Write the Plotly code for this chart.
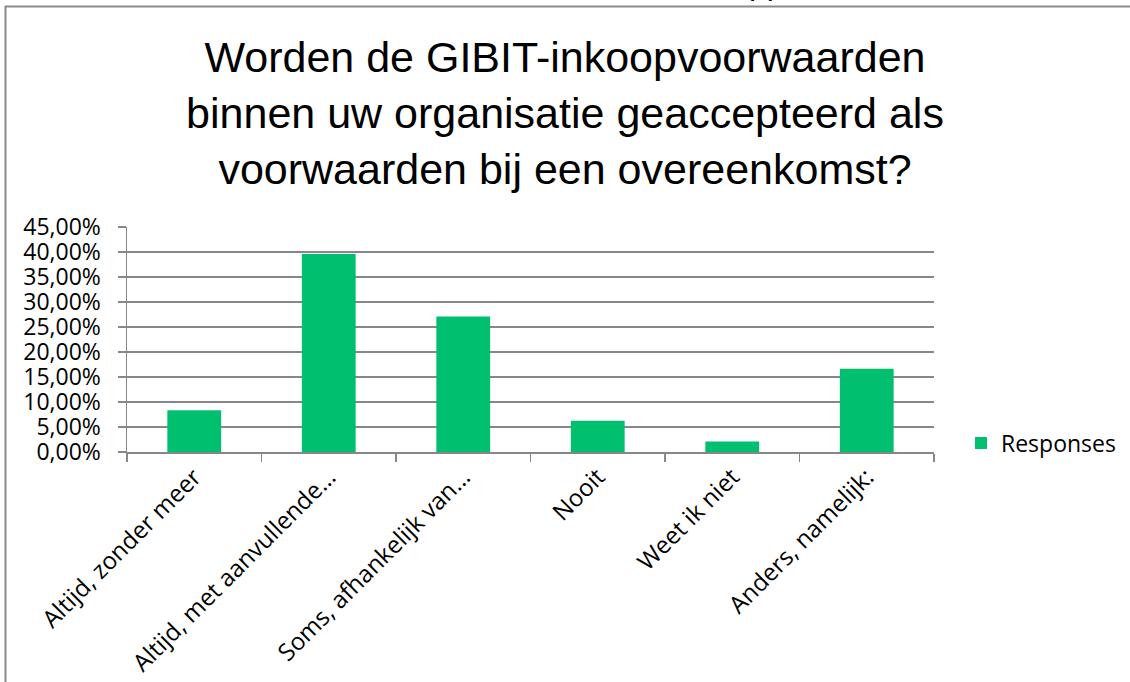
import plotly.graph_objects as go

categories = ["Altijd, zonder meer", "Altijd, met aanvullende…", "Soms, afhankelijk van…",
              "Nooit", "Weet ik niet", "Anders, namelijk:"]
values = [0.0833, 0.3958, 0.2708, 0.0625, 0.0208, 0.1667]
series_name = "Responses"
title_lines = ["Worden de GIBIT-inkoopvoorwaarden",
               "binnen uw organisatie geaccepteerd als",
               "voorwaarden bij een overeenkomst?"]

W, H = 1130, 682
L, R, T, B = 127, 196, 227, 230
pw = W - L - R
ph = H - T - B

def px_x(p):
    return (p - L) / pw

def px_y(p):
    return (H - B - p) / ph

GRID = "#878787"
GREEN = "#00BF6F"
TICKFONT = dict(family="Open Sans, Lato, sans-serif", size=23, color="#000000")

fig = go.Figure()
fig.add_trace(go.Bar(x=categories, y=values, name=series_name,
                     marker=dict(color=GREEN, line=dict(width=0)),
                     showlegend=True))

fig.update_layout(
    width=W, height=H,
    margin=dict(l=L, r=R, t=T, b=B, autoexpand=False),
    paper_bgcolor="white", plot_bgcolor="white",
    separators=",.",
    bargap=0.6,
    hovermode=False,
    title=dict(text="<br>".join(title_lines), x=0.5, xanchor="center",
               y=1 - 72 / H, yref="container", yanchor="top",
               font=dict(family="Liberation Sans, Arial, sans-serif", size=43, color="#000000")),
    showlegend=True,
    legend=dict(x=px_x(961), xanchor="left", y=px_y(443), yanchor="middle",
                font=TICKFONT, bgcolor="rgba(0,0,0,0)", itemwidth=30),
    xaxis=dict(type="category", tickson="boundaries", ticks="outside", ticklen=8,
               tickcolor=GRID, tickwidth=1.5, showline=True, linecolor=GRID, linewidth=1.5,
               tickangle=-45, tickfont=dict(TICKFONT, size=24), showgrid=False, zeroline=False),
    yaxis=dict(range=[0, 0.45], dtick=0.05, tick0=0, tickformat=".2%", ticks="outside",
               ticklen=8, tickcolor=GRID, tickwidth=1.5, showline=True, linecolor=GRID,
               linewidth=1.5, showgrid=True, gridcolor=GRID, gridwidth=1.5,
               zeroline=False, tickfont=TICKFONT, ticklabelstandoff=12, fixedrange=True),
    shapes=[
        dict(type="line", xref="paper", yref="paper", x0=px_x(5), x1=px_x(1135),
             y0=px_y(6.5), y1=px_y(6.5), line=dict(color="#8a8a8a", width=2)),
        dict(type="line", xref="paper", yref="paper", x0=px_x(5.5), x1=px_x(5.5),
             y0=px_y(6), y1=px_y(690), line=dict(color="#8a8a8a", width=2)),
    ],
    annotations=[
        dict(text="pp", xref="paper", yref="paper", x=px_x(767), y=px_y(3.5),
             xanchor="center", yanchor="bottom", showarrow=False,
             font=dict(family="Liberation Sans, Arial, sans-serif", size=32, color="#000000")),
    ],
)

fig.write_html("out.html",
               config={"displayModeBar": False, "staticPlot": True},
               post_script="document.body.style.margin='0';document.body.style.overflow='hidden';")
